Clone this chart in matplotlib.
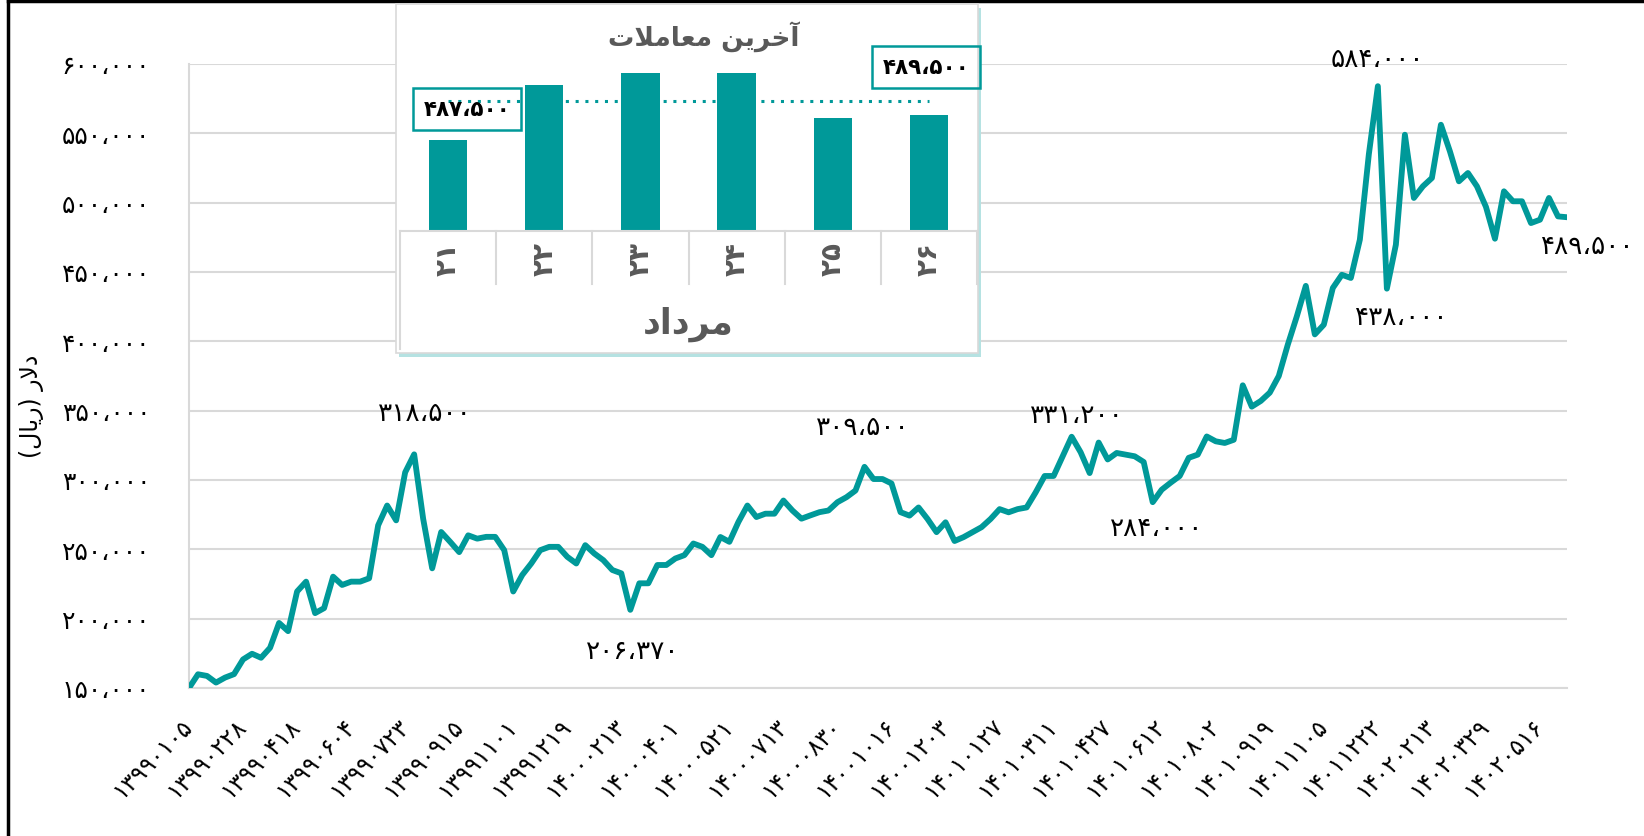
import matplotlib
matplotlib.use("Agg")
import matplotlib.pyplot as plt
from matplotlib.patches import Rectangle
from matplotlib.lines import Line2D
from matplotlib.transforms import ScaledTranslation

plt.rcParams['font.family'] = ['DejaVu Sans']

TEAL = '#009999'
GRID = '#d9d9d9'
GRAY = '#595959'

# daily dollar price (rial)
prices = [
    150000, 159900, 158700, 153900, 157500, 160000, 170600, 174700, 171800, 179000,
    196900, 191000, 219600, 226700, 204000, 207600, 230300, 224300, 226700, 226700,
    229100, 267300, 281600, 270900, 305500, 318500, 272000, 236300, 262500, 255400,
    248000, 260100, 257700, 259000, 259000, 249400, 219600, 231500, 239800, 249400,
    251800, 251800, 244600, 239800, 253000, 247000, 242200, 235100, 232700, 206370,
    225500, 225500, 238700, 238700, 243400, 245800, 254200, 251800, 245800, 258900,
    255400, 269700, 281600, 273300, 275700, 275700, 285200, 278000, 272100, 274500,
    276800, 278000, 284000, 287600, 292400, 309500, 300700, 300700, 297500, 276800,
    274300, 280200, 271900, 262400, 269500, 256000, 258800, 262400, 266000, 271900,
    279000, 276700, 279000, 280200, 291000, 302900, 302900, 317100, 331200, 320000,
    305000, 327000, 314800, 319500, 318300, 317100, 313000, 284000, 293000, 298100,
    302900, 316000, 318300, 331400, 327900, 326700, 329000, 368300, 352900, 357000,
    363000, 375000, 397600, 418000, 440000, 405000, 412000, 438500, 448000, 445700,
    473300, 535000, 584000, 438000, 469700, 549000, 503400, 511800, 517800, 556200,
    537000, 515400, 521400, 511800, 497000, 474000, 508200, 501000, 501000, 485300,
    487700, 503400, 490100, 489500,
]

date_labels = [
    '۱۳۹۹۰۱۰۵', '۱۳۹۹۰۲۲۸', '۱۳۹۹۰۴۱۸', '۱۳۹۹۰۶۰۴', '۱۳۹۹۰۷۲۳', '۱۳۹۹۰۹۱۵',
    '۱۳۹۹۱۱۰۱', '۱۳۹۹۱۲۱۹', '۱۴۰۰۰۲۱۳', '۱۴۰۰۰۴۰۱', '۱۴۰۰۰۵۲۱', '۱۴۰۰۰۷۱۳',
    '۱۴۰۰۰۸۳۰', '۱۴۰۰۱۰۱۶', '۱۴۰۰۱۲۰۳', '۱۴۰۱۰۱۲۷', '۱۴۰۱۰۳۱۱', '۱۴۰۱۰۴۲۷',
    '۱۴۰۱۰۶۱۲', '۱۴۰۱۰۸۰۲', '۱۴۰۱۰۹۱۹', '۱۴۰۱۱۱۰۵', '۱۴۰۱۱۲۲۲', '۱۴۰۲۰۲۱۳',
    '۱۴۰۲۰۳۲۹', '۱۴۰۲۰۵۱۶',
]
label_every = 6

y_ticks = [150000, 200000, 250000, 300000, 350000, 400000, 450000, 500000, 550000, 600000]

# points that carry a value label
marked = [25, 49, 75, 98, 107, 132, 133, 153]

# inset: last trades of Mordad
days = [21, 22, 23, 24, 25, 26]
last_prices = [487500, 492000, 493000, 493000, 489300, 489500]

# Persian text written in presentation forms, visual order
title_fa = '\ufe95\ufefc\ufee3\ufe8e\ufecc\ufee3 \ufee6\ufef3\ufeae\ufea7\ufe81'
month_fa = '\ufea9\ufe8d\ufea9\ufeae\ufee3'
ylabel_fa = '(\ufedd\ufe8e\ufef3\ufead) \ufead\ufefb\ufea9'

FA = str.maketrans('0123456789,', '۰۱۲۳۴۵۶۷۸۹،')


def fa(n):
    return f'{n:,}'.translate(FA)


W, H = 1644, 837
fig = plt.figure(figsize=(W / 100, H / 100), dpi=100)


def fx(px):
    return px / W


def fy(py):
    return 1 - py / H


ax = fig.add_axes([fx(189), fy(689), fx(1567 - 189), (689 - 65) / H])
xs = list(range(len(prices)))
ax.plot(xs, prices, color=TEAL, lw=4.2, solid_joinstyle='round', zorder=3)
ax.set_xlim(0, len(prices) - 1)
ax.set_ylim(150000, 600000)
ax.set_yticks(y_ticks)
ax.set_yticklabels([fa(v) for v in y_ticks], fontsize=18)
ticks = list(range(0, len(prices), label_every))[:len(date_labels)]
ax.set_xticks(ticks)
ax.set_xticklabels(date_labels, rotation=45, ha='right', va='center',
                   rotation_mode='anchor', fontsize=17)
shift = ScaledTranslation(8 / 100, 0, fig.dpi_scale_trans)
for lab in ax.get_xticklabels():
    lab.set_transform(lab.get_transform() + shift)
ax.tick_params(axis='x', length=0, pad=24)
ax.tick_params(axis='y', length=0, pad=28)
ax.grid(axis='y', color=GRID, lw=1.5)
ax.set_axisbelow(True)
for s in ['top', 'right']:
    ax.spines[s].set_visible(False)
ax.spines['left'].set_color(GRID)
ax.spines['bottom'].set_color(GRID)
ax.spines['left'].set_linewidth(1.5)
ax.spines['bottom'].set_linewidth(1.5)

offsets = {25: (11, 41), 49: (2, -41), 75: (-2, 40), 98: (5, 22),
           107: (4, -26), 132: (0, 27), 133: (15, -28)}
for i in marked:
    if i in offsets:
        ax.annotate(fa(prices[i]), (i, prices[i]), xytext=offsets[i],
                    textcoords='offset pixels', ha='center', va='center',
                    fontsize=19, annotation_clip=False)
    else:
        ax.annotate(fa(prices[i]), (i, prices[i]), xytext=(-26, -29),
                    textcoords='offset pixels', ha='left', va='center',
                    fontsize=19, annotation_clip=False)

fig.text(fx(31), fy(406), ylabel_fa, rotation=90, ha='center', va='center', fontsize=17)

# outer border (left and top only)
fig.add_artist(Line2D([fx(8), fx(8)], [0, fy(2)], color='black', lw=2.5))
fig.add_artist(Line2D([fx(8), 1], [fy(2), fy(2)], color='black', lw=2.5))

# inset frame with soft shadow
fig.add_artist(Rectangle((fx(399), fy(358)), fx(582), 349 / H, transform=fig.transFigure,
                         facecolor='#b5e2e2', edgecolor='none', zorder=4))
fig.add_artist(Rectangle((fx(396), fy(354)), fx(582), 349 / H, transform=fig.transFigure,
                         facecolor='white', edgecolor=GRID, lw=1.2, zorder=5))

bx = fig.add_axes([fx(400), fy(232), fx(577), (232 - 49.6) / H], zorder=6)
bx.patch.set_alpha(0)
pos = list(range(len(days)))
bx.bar(pos, last_prices, width=0.4, bottom=0, color=TEAL, zorder=2)
bx.set_xlim(-0.5, len(days) - 0.5)
bx.set_ylim(480000, 495000)
bx.set_xticks([])
bx.set_yticks([])
for s in ['top', 'right', 'left']:
    bx.spines[s].set_visible(False)
bx.spines['bottom'].set_color(GRID)
bx.spines['bottom'].set_linewidth(1.5)
avg = sum(last_prices) / len(last_prices)
bx.plot([pos[0], pos[-1]], [avg, avg], color=TEAL, lw=2.2, ls=(0, (1, 2.2)), zorder=8)

# category row under the bars
cw = 577 / len(days)
for k in range(len(days) + 1):
    bottom = 350 if k == 0 else 285
    fig.add_artist(Line2D([fx(400 + k * cw)] * 2, [fy(232), fy(bottom)],
                          color=GRID, lw=1.5, zorder=6))
for k, d in enumerate(days):
    fig.text(fx(400 + (k + 0.5) * cw), fy(259), fa(d), rotation=90, ha='center',
             va='center', fontsize=20, color=GRAY, fontweight='bold', zorder=7)
fig.text(fx(688), fy(324), month_fa, ha='center', va='center', fontsize=25,
         color=GRAY, fontweight='bold', zorder=7)
fig.text(fx(704), fy(37), title_fa, ha='center', va='center', fontsize=19,
         color=GRAY, fontweight='bold', zorder=7)

box = dict(boxstyle='square,pad=0.5', facecolor='none', edgecolor=TEAL, lw=1.8)
fig.text(fx(467), fy(110), fa(last_prices[0]), ha='center', va='center', fontsize=15.5,
         fontweight='bold', bbox=box, zorder=7)
fig.text(fx(926), fy(68), fa(last_prices[-1]), ha='center', va='center', fontsize=15.5,
         fontweight='bold', bbox=box, zorder=7)

fig.savefig('out.png', dpi=100, facecolor='white')
